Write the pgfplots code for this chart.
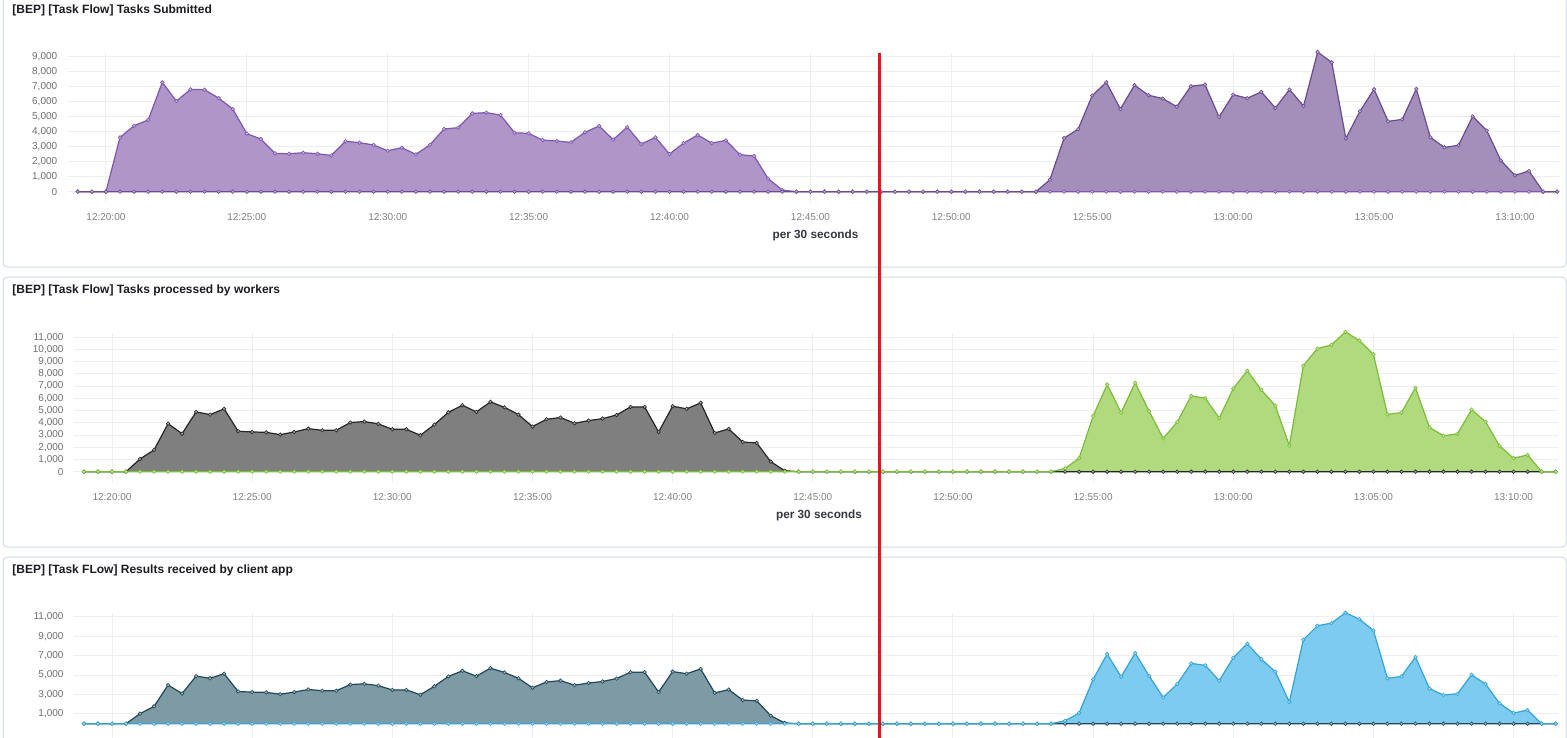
\documentclass[border=0pt]{standalone}
\usepackage{pgfplots}
\pgfplotsset{compat=1.18}
\usepackage{pgfplotstable}
\usepackage{fontspec}
\setmainfont{Liberation Sans}

\definecolor{pAfill}{HTML}{AF95C8}
\definecolor{pAline}{HTML}{7E57B0}
\definecolor{pBfill}{HTML}{A48FBA}
\definecolor{pBline}{HTML}{694B93}
\definecolor{gAfill}{HTML}{7F7F7F}
\definecolor{gAline}{HTML}{262626}
\definecolor{gBfill}{HTML}{B1DA7E}
\definecolor{gBline}{HTML}{78BE36}
\definecolor{bAfill}{HTML}{7E9AA4}
\definecolor{bAline}{HTML}{21485A}
\definecolor{bBfill}{HTML}{7DCBEE}
\definecolor{bBline}{HTML}{33A4DA}
\definecolor{gridc}{HTML}{EEEEEE}
\definecolor{tickc}{HTML}{6E6E6E}
\definecolor{xtickc}{HTML}{808080}
\definecolor{titlec}{HTML}{1A1C21}
\definecolor{subc}{HTML}{343741}
\definecolor{panelc}{HTML}{D3DAE6}
\definecolor{redline}{HTML}{E8141C}

% time in minutes after 12:00, one row every 30 s
\pgfplotstableread{
t L R
19.0 0 0
19.5 0 0
20.0 0 0
20.5 3620 0
21.0 4400 0
21.5 4780 0
22.0 7290 0
22.5 6040 0
23.0 6820 0
23.5 6800 0
24.0 6240 0
24.5 5510 0
25.0 3870 0
25.5 3510 0
26.0 2560 0
26.5 2530 0
27.0 2600 0
27.5 2530 0
28.0 2420 0
28.5 3360 0
29.0 3270 0
29.5 3110 0
30.0 2730 0
30.5 2930 0
31.0 2490 0
31.5 3130 0
32.0 4180 0
32.5 4270 0
33.0 5220 0
33.5 5270 0
34.0 5110 0
34.5 3930 0
35.0 3890 0
35.5 3440 0
36.0 3380 0
36.5 3290 0
37.0 3960 0
37.5 4380 0
38.0 3470 0
38.5 4310 0
39.0 3180 0
39.5 3620 0
40.0 2510 0
40.5 3240 0
41.0 3780 0
41.5 3240 0
42.0 3420 0
42.5 2470 0
43.0 2380 0
43.5 870 0
44.0 110 0
44.5 0 0
45.0 0 0
45.5 0 0
46.0 0 0
46.5 0 0
47.0 0 0
47.5 0 0
48.0 0 0
48.5 0 0
49.0 0 0
49.5 0 0
50.0 0 0
50.5 0 0
51.0 0 0
51.5 0 0
52.0 0 0
52.5 0 0
53.0 0 0
53.5 0 800
54.0 0 3570
54.5 0 4170
55.0 0 6410
55.5 0 7300
56.0 0 5510
56.5 0 7100
57.0 0 6430
57.5 0 6210
58.0 0 5670
58.5 0 7030
59.0 0 7140
59.5 0 4980
60.0 0 6470
60.5 0 6230
61.0 0 6650
61.5 0 5580
62.0 0 6810
62.5 0 5710
63.0 0 9310
63.5 0 8620
64.0 0 3550
64.5 0 5360
65.0 0 6830
65.5 0 4690
66.0 0 4820
66.5 0 6850
67.0 0 3620
67.5 0 2950
68.0 0 3100
68.5 0 5020
69.0 0 4080
69.5 0 2080
70.0 0 1090
70.5 0 1380
71.0 0 0
71.5 0 0
}\subm

\pgfplotstableread{
t L R
19.0 0 0
19.5 0 0
20.0 0 0
20.5 0 0
21.0 1040 0
21.5 1780 0
22.0 3930 0
22.5 3110 0
23.0 4890 0
23.5 4670 0
24.0 5140 0
24.5 3310 0
25.0 3250 0
25.5 3220 0
26.0 3030 0
26.5 3250 0
27.0 3520 0
27.5 3390 0
28.0 3390 0
28.5 4020 0
29.0 4100 0
29.5 3910 0
30.0 3470 0
30.5 3470 0
31.0 2980 0
31.5 3850 0
32.0 4860 0
32.5 5440 0
33.0 4890 0
33.5 5710 0
34.0 5270 0
34.5 4670 0
35.0 3690 0
35.5 4290 0
36.0 4430 0
36.5 3960 0
37.0 4180 0
37.5 4340 0
38.0 4640 0
38.5 5300 0
39.0 5300 0
39.5 3250 0
40.0 5360 0
40.5 5140 0
41.0 5630 0
41.5 3170 0
42.0 3500 0
42.5 2430 0
43.0 2350 0
43.5 820 0
44.0 80 0
44.5 0 0
45.0 0 0
45.5 0 0
46.0 0 0
46.5 0 0
47.0 0 0
47.5 0 0
48.0 0 0
48.5 0 0
49.0 0 0
49.5 0 0
50.0 0 0
50.5 0 0
51.0 0 0
51.5 0 0
52.0 0 0
52.5 0 0
53.0 0 0
53.5 0 0
54.0 0 270
54.5 0 1100
55.0 0 4550
55.5 0 7130
56.0 0 4830
56.5 0 7270
57.0 0 4940
57.5 0 2720
58.0 0 4060
58.5 0 6200
59.0 0 6010
59.5 0 4390
60.0 0 6800
60.5 0 8260
61.0 0 6690
61.5 0 5400
62.0 0 2140
62.5 0 8670
63.0 0 10070
63.5 0 10370
64.0 0 11440
64.5 0 10730
65.0 0 9600
65.5 0 4690
66.0 0 4830
66.5 0 6860
67.0 0 3620
67.5 0 2940
68.0 0 3100
68.5 0 5080
69.0 0 4090
69.5 0 2110
70.0 0 1100
70.5 0 1370
71.0 0 0
71.5 0 0
}\proc

\pgfplotstableread{
t L R
19.0 0 0
19.5 0 0
20.0 0 0
20.5 0 0
21.0 1040 0
21.5 1780 0
22.0 3970 0
22.5 3110 0
23.0 4890 0
23.5 4670 0
24.0 5140 0
24.5 3310 0
25.0 3250 0
25.5 3220 0
26.0 3030 0
26.5 3250 0
27.0 3520 0
27.5 3390 0
28.0 3390 0
28.5 4020 0
29.0 4100 0
29.5 3910 0
30.0 3470 0
30.5 3470 0
31.0 2980 0
31.5 3850 0
32.0 4860 0
32.5 5440 0
33.0 4890 0
33.5 5710 0
34.0 5270 0
34.5 4670 0
35.0 3690 0
35.5 4290 0
36.0 4430 0
36.5 3960 0
37.0 4180 0
37.5 4340 0
38.0 4640 0
38.5 5300 0
39.0 5300 0
39.5 3250 0
40.0 5360 0
40.5 5140 0
41.0 5630 0
41.5 3170 0
42.0 3500 0
42.5 2430 0
43.0 2350 0
43.5 820 0
44.0 80 0
44.5 0 0
45.0 0 0
45.5 0 0
46.0 0 0
46.5 0 0
47.0 0 0
47.5 0 0
48.0 0 0
48.5 0 0
49.0 0 0
49.5 0 0
50.0 0 0
50.5 0 0
51.0 0 0
51.5 0 0
52.0 0 0
52.5 0 0
53.0 0 0
53.5 0 0
54.0 0 300
54.5 0 1100
55.0 0 4550
55.5 0 7160
56.0 0 4830
56.5 0 7260
57.0 0 4900
57.5 0 2700
58.0 0 4080
58.5 0 6200
59.0 0 6000
59.5 0 4420
60.0 0 6780
60.5 0 8220
61.0 0 6640
61.5 0 5340
62.0 0 2230
62.5 0 8630
63.0 0 10070
63.5 0 10340
64.0 0 11400
64.5 0 10750
65.0 0 9590
65.5 0 4660
66.0 0 4860
66.5 0 6850
67.0 0 3600
67.5 0 2950
68.0 0 3080
68.5 0 5030
69.0 0 4080
69.5 0 2090
70.0 0 1100
70.5 0 1400
71.0 0 0
71.5 0 0
}\resu

\pgfplotsset{
  kib/.style={
    scale only axis, anchor=south west,
    xmin=18.64, xmax=71.6,
    axis line style={draw=none},
    major tick length=0pt,
    scaled y ticks=false,
    xtick={20,25,...,70},
    xticklabels={12:20:00,12:25:00,12:30:00,12:35:00,12:40:00,12:45:00,12:50:00,12:55:00,13:00:00,13:05:00,13:10:00},
    grid=major,
    major grid style={draw=gridc, line width=0.5pt},
    tick label style={font=\fontsize{5}{6}\selectfont},
    yticklabel style={inner sep=0pt, anchor=east, xshift=-5pt, text=tickc},
    xticklabel style={inner sep=0pt, anchor=north, yshift=-5.5pt, text=xtickc},
    /pgf/number format/1000 sep={,},
    /pgf/number format/assume math mode=true,
    clip=false,
  },
  areaf/.style={draw=none, fill=#1, forget plot},
  linem/.style 2 args={draw=#1, line width=0.6pt, mark=*, mark size=0.9pt,
    mark options={fill=#2!70!white, draw=#1, line width=0.3pt}},
}

\begin{document}
\begin{tikzpicture}
\useasboundingbox (0,0) rectangle (783.5pt,-369pt);
\clip (0,0) rectangle (783.5pt,-369pt);

\begin{scope}[x=0.5pt,y=-0.5pt]
  \draw[panelc, line width=0.5pt, rounded corners=2pt] (3,-4) rectangle (1566,267);
  \draw[panelc, line width=0.5pt, rounded corners=2pt] (3,277) rectangle (1566,547);
  \draw[panelc, line width=0.5pt, rounded corners=2pt] (3,557) rectangle (1566,760);
  \node[anchor=west, inner sep=0pt, text=titlec, font=\fontsize{6}{7}\selectfont\bfseries] at (12,10) {[BEP] [Task Flow] Tasks Submitted};
  \node[anchor=west, inner sep=0pt, text=titlec, font=\fontsize{6}{7}\selectfont\bfseries] at (12,290) {[BEP] [Task Flow] Tasks processed by workers};
  \node[anchor=west, inner sep=0pt, text=titlec, font=\fontsize{6}{7}\selectfont\bfseries] at (12,570) {[BEP] [Task FLow] Results received by client app};
\end{scope}

% Panel 1
\begin{axis}[kib, at={(33.8pt,-101.1pt)}, width=746.2pt, height=74.5pt,
  ymin=-700, ymax=9233, ytick={0,1000,...,9000}]
  \addplot[areaf=pAfill] table[x=t,y=L]{\subm} \closedcycle;
  \addplot[areaf=pBfill] table[x=t,y=R]{\subm} \closedcycle;
  \addplot[linem={pAline}{pAfill}] table[x=t,y=L]{\subm};
  \addplot[linem={pBline}{pBfill}] table[x=t,y=R]{\subm};
\end{axis}

% Panel 2
\begin{axis}[kib, at={(36.95pt,-240.85pt)}, width=742.25pt, height=74.55pt,
  ymin=-820, ymax=11380, ytick={0,1000,...,11000}]
  \addplot[areaf=gAfill] table[x=t,y=L]{\proc} \closedcycle;
  \addplot[areaf=gBfill] table[x=t,y=R]{\proc} \closedcycle;
  \addplot[linem={gAline}{gAfill}] table[x=t,y=L]{\proc};
  \addplot[linem={gBline}{gBfill}] table[x=t,y=R]{\proc};
\end{axis}

% Panel 3
\begin{axis}[kib, at={(36.95pt,-372.5pt)}, width=742.25pt, height=65.85pt,
  ymin=-2190, ymax=11350, ytick={1000,3000,...,11000}, xticklabels={}]
  \addplot[areaf=bAfill] table[x=t,y=L]{\resu} \closedcycle;
  \addplot[areaf=bBfill] table[x=t,y=R]{\resu} \closedcycle;
  \addplot[linem={bAline}{bAfill}] table[x=t,y=L]{\resu};
  \addplot[linem={bBline}{bBfill}] table[x=t,y=R]{\resu};
\end{axis}

\begin{scope}[x=0.5pt,y=-0.5pt]
  \node[inner sep=0pt, text=subc, font=\fontsize{5.9}{7}\selectfont\bfseries] at (815.5,235) {per 30 seconds};
  \node[inner sep=0pt, text=subc, font=\fontsize{5.9}{7}\selectfont\bfseries] at (819,515) {per 30 seconds};
  \draw[redline, line width=1.5pt] (879,53) -- (879,745);
\end{scope}
\end{tikzpicture}
\end{document}
